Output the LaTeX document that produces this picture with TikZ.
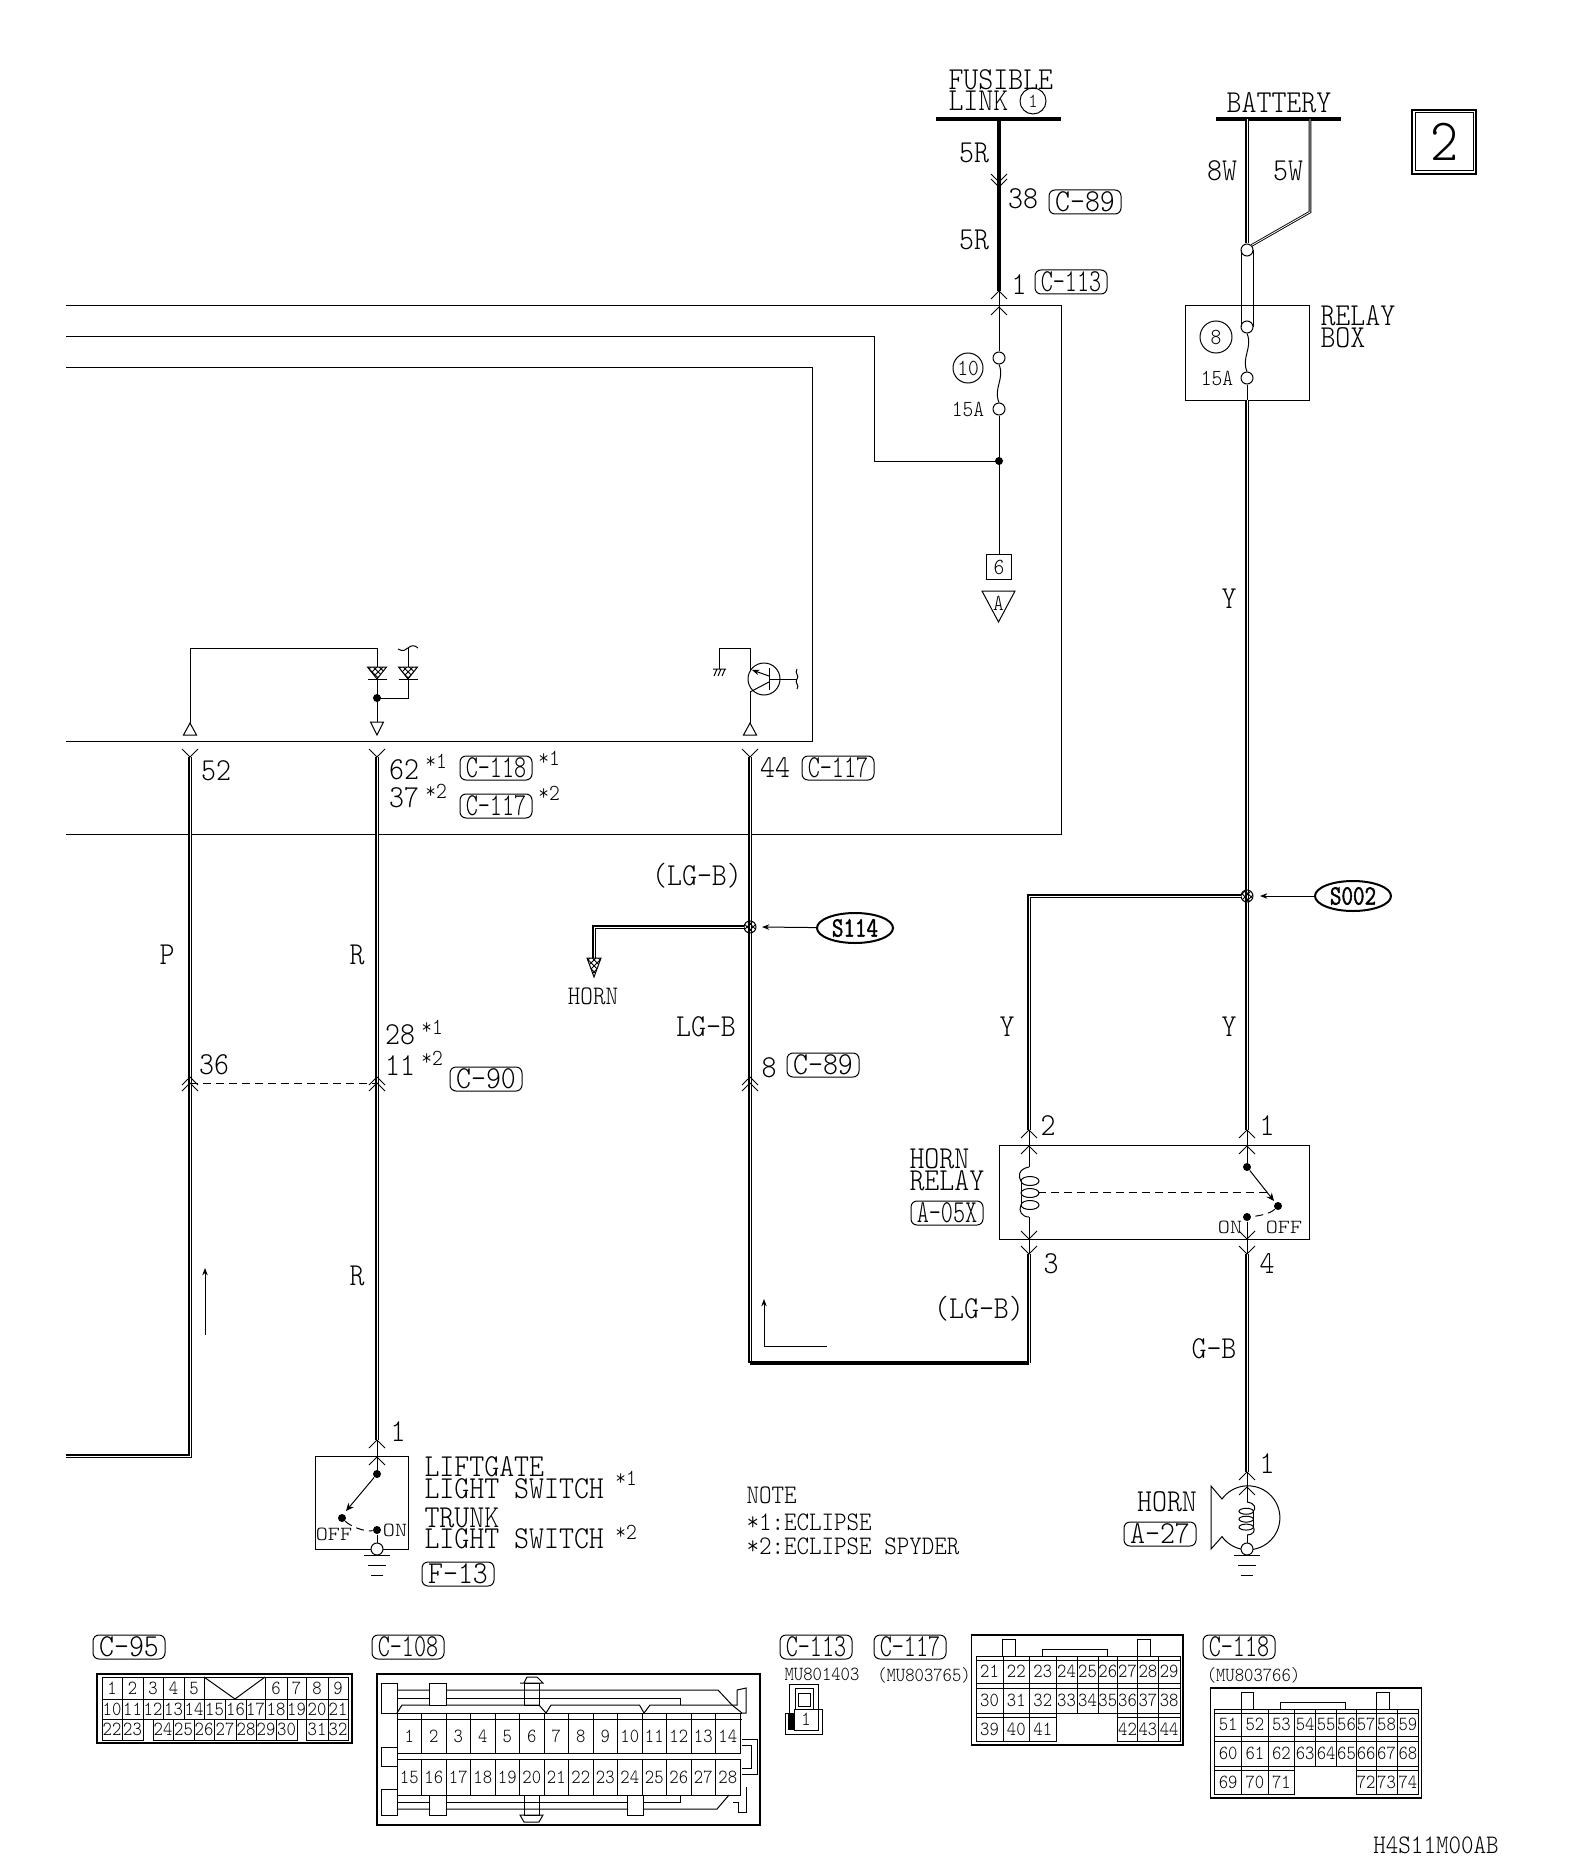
\documentclass[tikz,border=0pt]{standalone}
\usepackage{fontspec}
\setmonofont{Latin Modern Mono Light}[FakeStretch=.89]
\newfontfamily\tagfont{Latin Modern Mono Light}[FakeStretch=.72]
\newfontfamily\widefont{Latin Modern Mono Light}[FakeStretch=1.15]
\newfontfamily\splicefont{Latin Modern Mono}[FakeStretch=.8,FakeBold=1.5]
\usetikzlibrary{arrows.meta,patterns,shapes.geometric}
\tikzset{
  lab/.style={font=\ttfamily\fontsize{16}{16}\selectfont,inner sep=0pt},
  sml/.style={font=\ttfamily\fontsize{11.5}{11.5}\selectfont,inner sep=0pt},
  note/.style={font=\ttfamily\fontsize{13.4}{13.4}\selectfont,inner sep=0pt,anchor=west},
  pin/.style={font=\ttfamily\fontsize{10}{10}\selectfont,inner sep=0pt},
  pinw/.style={font=\widefont\fontsize{10}{10}\selectfont,inner sep=0pt},
  tag/.style={lab,draw,rounded corners=3pt,minimum width=36pt,minimum height=12pt},
  tagw/.style={tag,font=\tagfont\fontsize{16}{16}\selectfont},
  wire/.style={double=white,double distance=.5pt,line width=.75pt},
  wirelt/.style={double=white,double distance=.4pt,line width=.45pt},
  wirebold/.style={line width=2.4pt},
  term/.style={circle,draw,fill=white,minimum size=6pt,inner sep=0pt},
  dot/.style={circle,fill=black,minimum size=4pt,inner sep=0pt},
  sdot/.style={circle,draw,pattern=crosshatch,minimum size=6pt,inner sep=0pt},
  splice/.style={ellipse,draw,line width=1pt,inner sep=0pt,minimum width=38pt,minimum height=15pt,
    font=\splicefont\fontsize{14}{14}\selectfont},
  lead/.style={dash pattern=on 4pt off 2.5pt},
  tipup/.pic={\draw (-8,8)--(0,0)--(8,8);},
  tipdn/.pic={\draw (-8,-8)--(0,0)--(8,-8);},
  triup/.pic={\draw (0,0)--(-6.5,12)--(6.5,12)--cycle;},
  tridn/.pic={\draw (-6.5,0)--(6.5,0)--(0,13)--cycle;},
  gnd/.pic={\draw (-13,0)--(13,0) (-9,10)--(9,10) (-6,20)--(6,20);},
  coil/.pic={
    \draw (0,0) .. controls (-11,2) and (-11,10) .. (-8,14);
    \foreach \k in {0,1,2} \draw (1,14+12*\k) ellipse (9 and 4.5);
    \draw (-8,38) .. controls (-11,44) and (-7,50) .. (0,50);
    \draw (-8,14) -- (-8,38);},
  diode/.pic={
    \draw[pattern=crosshatch] (-9.5,0)--(9.5,0)--(0,12)--cycle;
    \draw (-9.5,12)--(9.5,12);}
}
\newcommand{\pinrow}[4]{%
  \foreach \n/\a/\b in {#4}
    \draw (\a,#2) rectangle (\b,#3) node[pin,midway] (#1-\n) {\n};}
\newcommand{\bigconn}[2]{%
  \draw[line width=.7pt] (971.5,1635) rectangle (1183,1745);
  \draw (1002.6,1656) -- (1002.6,1639) -- (1015,1639) -- (1015,1656);
  \draw (1137.4,1656) -- (1137.4,1639) -- (1150.7,1639) -- (1150.7,1656);
  \draw (1042,1656) -- (1042,1649) -- (1107,1649) -- (1107,1656);
  \foreach \i/\a/\b in {0/976/1003,1/1003/1029.5,2/1029.5/1056,3/1056/1077,4/1077/1098,5/1098/1117.6,6/1117.6/1137.4,7/1137.4/1158.3,8/1158.3/1180}{
    \pgfmathtruncatemacro\n{#2+\i}
    \draw (\a,1656) rectangle (\b,1683) node[pin,midway,yshift=-1pt] (#1-\n) {\n};
    \pgfmathtruncatemacro\n{#2+\i+9}
    \draw (\a,1683) rectangle (\b,1713) node[pin,midway,yshift=-1pt] (#1-\n) {\n};}
  \foreach \i/\a/\b in {18/976/1003,19/1003/1029.5,20/1029.5/1056,21/1117.6/1137.4,22/1137.4/1158.3,23/1158.3/1180}{
    \pgfmathtruncatemacro\n{#2+\i}
    \draw (\a,1713) rectangle (\b,1741) node[pin,midway,yshift=-1pt] (#1-\n) {\n};}
  \draw (976,1660) -- (1180,1660) (976,1688) -- (1180,1688) (976,1717) -- (1056,1717) (1117.6,1717) -- (1180,1717);}

\begin{document}
\begin{tikzpicture}[x=.5pt,y=-.5pt,line width=.5pt,>={Stealth[scale=.7]}]
  \useasboundingbox (0,0) rectangle (1568,1872);
  % power feeds
  \coordinate (fl) at (999,119);
  \coordinate (c38) at (999,187);
  \coordinate (c113a) at (999,291);
  \coordinate (c113b) at (999,307);
  \coordinate (flj) at (999,461);
  \coordinate (bw8) at (1247,119);
  \coordinate (bw5) at (1310,119);
  \coordinate (bw5k) at (1310,212);
  \coordinate (r1a) at (1247,1130);
  \coordinate (r1b) at (1247,1146);
  \coordinate (r2a) at (1029,1130);
  \coordinate (r2b) at (1029,1146);
  \coordinate (r3a) at (1029,1239);
  \coordinate (r3b) at (1029,1254);
  \coordinate (r4a) at (1247,1239);
  \coordinate (r4b) at (1247,1254);
  \coordinate (hn1a) at (1247,1472);
  \coordinate (hn1b) at (1247,1487);
  \coordinate (rbend) at (1029,1363);
  \coordinate (lgbend) at (750,1363);
  \coordinate (t52) at (190,757);
  \coordinate (t62) at (377,757);
  \coordinate (t44) at (750,757);
  \coordinate (c36) at (190,1083);
  \coordinate (c28) at (377,1083);
  \coordinate (pbend) at (190,1456);
  \coordinate (pend) at (66,1456);
  \coordinate (lsa) at (377,1440);
  \coordinate (lsb) at (377,1457);
  \coordinate (hornarr) at (594,958);

  \draw[line width=2.4pt] (936,119) -- (1061,119);
  \draw[line width=2.4pt] (1216,119) -- (1341,119);
  \node[lab,anchor=west] (fusible) at (948,80) {FUSIBLE};
  \node[lab,anchor=west] (link) at (948,101) {LINK};
  \node[draw,circle,minimum size=13pt,inner sep=0pt,pin] (fl1) at (1033,101) {1};
  \node[lab] (battery) at (1279,103) {BATTERY};
  \node[lab] (w5r1) at (974,153) {5R};
  \node[lab] (w5r2) at (974,240) {5R};
  \node[lab] (n38) at (1023,199) {38};
  \node[tag] (tc89a) at (1085,202) {C-89};
  \node[lab] (n1a) at (1019,285) {1};
  \node[tagw] (tc113) at (1071,282) {C-113};
  \node[lab] (w8w) at (1222,171) {8W};
  \node[lab] (w5w) at (1288,171) {5W};
  \draw[wirebold] (fl) -- (c113a);
  \path (c38) pic {tipdn} ++(0,-5) pic {tipdn};
  \path (c113a) pic {tipup} (c113b) pic {tipup};

  % number box
  \draw[line width=.8pt] (1412,110) rectangle (1476,174);
  \node[draw,minimum width=29pt,minimum height=29pt,font=\ttfamily\fontsize{30}{30}\selectfont,inner sep=0pt] (sheet) at (1444,142) {2};

  % control unit outline
  \draw (66,306) -- (1061,306) -- (1061,834) -- (66,834);
  \draw (66,337) -- (874,337) -- (874,461) -- (flj);
  \draw (66,368) -- (812,368) -- (812,741) -- (66,741);
  \node[term] (f10t) at (999,358) {};
  \node[term] (f10b) at (999,409) {};
  \draw (c113a) -- (f10t) (f10b) -- (flj);
  \draw (f10t.south) .. controls +(6,14) and +(-6,-14) .. (f10b.north);
  \node[draw,circle,minimum size=15pt,inner sep=0pt,sml] (f10) at (968,368) {10};
  \node[sml] (a15a) at (968,409) {15A};
  \node[dot] (fljd) at (flj) {};
  \node[draw,line width=.7pt,minimum size=12.5pt,inner sep=0pt,sml] (b6) at (999,567) {6};
  \draw (flj) -- (b6);
  \draw (982,591) -- (1015,591) -- (998.5,622) -- cycle;
  \node[sml] (la) at (998.5,603) {A};

  % relay box
  \draw (1185,306) rectangle (1309,400);
  \node[term] (rbt1) at (1247,250) {};
  \node[term] (rbt2) at (1247,327) {};
  \node[term] (rbt3) at (1247,378) {};
  \draw[wire] (bw8) -- (rbt1);
  \draw[wirelt] (bw5) -- (bw5k) -- (rbt1.north east);
  \draw (1241,250) -- (1241,327) (1253,250) -- (1253,327);
  \draw (rbt2.south) .. controls +(6,14) and +(-6,-14) .. (rbt3.north);
  \draw (rbt3) -- (1247,400);
  \node[draw,circle,minimum size=16pt,inner sep=0pt,sml] (f8) at (1216,337) {8};
  \node[sml] (a15b) at (1217,378) {15A};
  \node[lab,anchor=west] (relay) at (1320,316) {RELAY};
  \node[lab,anchor=west] (box) at (1320,338) {BOX};
  \node[lab] (wy1) at (1229,599) {Y};

  % inner circuit
  \draw (190,723) -- (190,648) -- (377,648) -- (377,667);
  \draw (377,679) -- (377,722);
  \path (377,667) pic {diode} (408,667) pic {diode};
  \draw (408,648) -- (408,667) (408,679) -- (408,698) -- (377,698);
  \draw (398,649) .. controls (403,652) and (406,650) .. (408,648) .. controls (411,645) and (415,645) .. (418,648);
  \node[dot] (d698) at (377,698) {};
  \path (190,723) pic {triup} (377,722) pic {tridn} (750,723) pic {triup};
  \draw (750,723) -- (750,692) (750,670) -- (750,648) -- (719,648) -- (719,669);
  \draw (713,669) -- (726,669) (717,669) -- (714,676) (721,669) -- (718,676) (725,669) -- (722,676);
  \draw (764,679) circle[radius=16];
  \draw (769,668) -- (769,690) (769,679) -- (797,679);
  \draw[->] (769,676) -- (752,670);
  \draw (769,682) -- (750,692);
  \draw (797,669) .. controls (794,673) and (800,676) .. (797,679) .. controls (794,682) and (800,686) .. (797,689);

  % harness wires
  \draw[wire] (t52) -- (pbend) -- (pend);
  \draw[wire] (t62) -- (lsa);
  \draw[wire] (t44) -- (lgbend);
  \draw[wire] (r3b) -- (rbend);
  \draw[wirebold] (lgbend) -- (rbend);
  \draw[wire] (1247,400) -- (r1a);
  \draw[wire] (r4b) -- (hn1a);
  \foreach \t in {t52,t62,t44} \path (\t) pic {tipdn};
  \foreach \t in {c36,c28} \path (\t) pic {tipup} ++(0,-6) pic {tipup};
  \path (750,1083) pic {tipup} ++(0,-6) pic {tipup};
  \draw[lead] (c36) -- (c28);

  \node[lab] (n52) at (216,771) {52};
  \node[lab] (n62) at (404,770) {62};
  \node[sml] (sa1) at (436,761) {*1};
  \node[tagw] (tc118) at (496,768) {C-118};
  \node[sml] (sa2) at (549,758) {*1};
  \node[lab] (n37) at (404,798) {37};
  \node[sml] (sa3) at (436,791) {*2};
  \node[tagw] (tc117a) at (496,806) {C-117};
  \node[sml] (sa4) at (549,793) {*2};
  \node[lab] (n44) at (775,768) {44};
  \node[tagw] (tc117b) at (838,768) {C-117};
  \node[lab] (lgb1) at (697,876) {(LG-B)};
  \node[lab] (lgb2) at (706,1027) {LG-B};
  \node[lab] (n8) at (769,1068) {8};
  \node[tag] (tc89b) at (823,1065) {C-89};
  \node[lab] (wp) at (167,955) {P};
  \node[lab] (wr1) at (357,955) {R};
  \node[lab] (wr2) at (357,1276) {R};
  \node[lab] (n36) at (214,1065) {36};
  \node[lab] (n28) at (400,1035) {28};
  \node[sml] (sa5) at (432,1027) {*1};
  \node[lab] (n11) at (400,1066) {11};
  \node[sml] (sa6) at (432,1058) {*2};
  \node[tag] (tc90) at (486,1079) {C-90};

  % splices
  \node[sdot] (s114j) at (750,927) {};
  \node[sdot] (s002j) at (1247,896) {};
  \node[splice] (s114) at (855,928) {S114};
  \node[splice] (s002) at (1353,896) {S002};
  \coordinate (s114p) at (762,927);
  \coordinate (s002p) at (1260,896);
  \draw[->] (s114) -- (s114p);
  \draw[->] (s002) -- (s002p);
  \draw[wire] (s114j) -| (hornarr);
  \draw[pattern=crosshatch] (587,958) -- (601,958) -- (594,977) -- cycle;
  \node[lab,font=\ttfamily\fontsize{13.4}{13.4}\selectfont] (hornto) at (593,996) {HORN};
  \draw[wire] (s002j) -| (r2a);
  \node[lab] (wy2) at (1007,1027) {Y};
  \node[lab] (wy3) at (1229,1027) {Y};

  % direction arrows
  \draw[->] (205,1335) -- (205,1268);
  \draw[->] (827,1346) -- (764,1346) -- (764,1299);

  % horn relay
  \draw (999,1145) rectangle (1309,1239);
  \path (r2a) pic {tipup} (r2b) pic {tipup} (r1a) pic {tipup} (r1b) pic {tipup};
  \path (r3a) pic {tipdn} (r3b) pic {tipdn} (r4a) pic {tipdn} (r4b) pic {tipdn};
  \draw (r2a) -- (1029,1167) (1029,1217) -- (r3b);
  \path (1029,1167) pic {coil};
  \node[dot] (rc1) at (1247,1167) {};
  \node[dot] (rc2) at (1278,1206) {};
  \node[dot] (rc3) at (1247,1217) {};
  \draw (r1a) -- (rc1) (rc3) -- (r4b);
  \draw[-{Stealth[length=4pt,width=3.5pt]}] (rc1) -- (1274,1201);
  \draw[lead] (1038,1192) -- (1270,1192);
  \draw[lead] (rc2) .. controls (1270,1214) and (1258,1216) .. (rc3);
  \node[pinw] (ron) at (1230,1227) {ON};
  \node[pinw] (roff) at (1284,1227) {OFF};
  \node[lab] (n2) at (1048,1126) {2};
  \node[lab] (n1b) at (1267,1126) {1};
  \node[lab] (n3) at (1051,1264) {3};
  \node[lab] (n4) at (1267,1264) {4};
  \node[lab,anchor=west] (hr1) at (909,1159) {HORN};
  \node[lab,anchor=west] (hr2) at (909,1181) {RELAY};
  \node[tagw] (ta05) at (947,1213) {A-05X};
  \node[lab] (lgb3) at (979,1309) {(LG-B)};
  \node[lab] (gb) at (1214,1349) {G-B};

  % liftgate switch
  \draw (315,1456) rectangle (408,1549);
  \path (lsa) pic {tipup} (lsb) pic {tipup};
  \node[dot] (sw1) at (377,1474) {};
  \node[dot] (sw2) at (342,1518) {};
  \node[dot] (sw3) at (377,1530) {};
  \node[term] (sw4) at (377,1549) {};
  \draw (lsa) -- (sw1) (sw3) -- (sw4);
  \draw[-{Stealth[length=4pt,width=3.5pt]}] (sw1) -- (346,1511);
  \draw[lead] (sw2) .. controls (350,1526) and (364,1532) .. (sw3);
  \path (377,1555) pic {gnd};
  \node[pinw] (soff) at (334,1534) {OFF};
  \node[pinw] (son) at (395,1530) {ON};
  \node[lab,anchor=west] (lift) at (424,1467) {LIFTGATE};
  \node[lab,anchor=west] (light1) at (424,1489) {LIGHT SWITCH};
  \node[sml] (sb1) at (626,1478) {*1};
  \node[lab,anchor=west] (trunk) at (424,1518) {TRUNK};
  \node[lab,anchor=west] (light2) at (424,1539) {LIGHT SWITCH};
  \node[sml] (sb2) at (626,1532) {*2};
  \node[tag] (tf13) at (458,1574) {F-13};

  % horn
  \draw (1211,1486) -- (1222,1499) arc[start angle=-144,end angle=144,radius=32] -- (1211,1549) -- cycle;
  \path (hn1a) pic {tipup} (hn1b) pic {tipup};
  \node[term] (hn2) at (1247,1549) {};
  \draw (hn1a) -- (1247,1502) (1247,1535) -- (hn2);
  \path (1247,1502) pic[xscale=-.8,yscale=.66] {coil};
  \path (1247,1555) pic {gnd};
  \node[lab] (hn) at (1167,1502) {HORN};
  \node[tag] (ta27) at (1160,1534) {A-27};
  \node[lab] (n1c) at (1267,1464) {1};
  \node[lab] (n1d) at (398,1432) {1};

  % note
  \node[note] (nt0) at (746,1495) {NOTE};
  \node[note] (nt1) at (746,1522) {*1:ECLIPSE};
  \node[note] (nt2) at (746,1546) {*2:ECLIPSE SPYDER};
  \node[note,anchor=center] (code) at (1436,1845) {H4S11M00AB};

  % C-95
  \node[tag] (tc95) at (129,1647) {C-95};
  \draw[line width=.7pt] (97,1674) rectangle (352,1743);
  \pinrow{c95}{1677}{1699}{1/102/122,2/122/143,3/143/163,4/163/184,5/184/204,6/265/287,7/287/306,8/306/328,9/328/348}
  \pinrow{c95}{1699}{1719}{10/102/122,11/122/143,12/143/163,13/163/184,14/184/204,15/204/225,16/225/246,17/246/265,18/265/287,19/287/306,20/306/328,21/328/348}
  \pinrow{c95}{1719}{1740}{22/102/122,23/122/143,24/153/173,25/173/194,26/194/214,27/214/236,28/236/256,29/256/276,30/276/297,31/306/328,32/328/348}
  \draw (204,1677) -- (235,1699) -- (265,1677);
  \draw (204,1677) -- (265,1677);

  % C-108
  \node[tagw] (tc108) at (408,1647) {C-108};
  \draw[line width=.7pt] (377,1674) rectangle (760,1825);
  \draw (397,1690) -- (718,1690) -- (732,1705);
  \draw (397,1698) -- (680.6,1698) -- (680.6,1705);
  \draw (397,1713) -- (402,1705) -- (539,1705) -- (546,1713) -- (551,1705) -- (639.5,1705) -- (644,1713) -- (650,1705) -- (732,1705) -- (742,1713);
  \draw (381,1713) -- (742,1713) (397,1719) -- (742,1719);
  \draw (397,1802) -- (680.6,1802) -- (680.6,1795);
  \draw (397,1809) -- (717,1809) -- (729,1795);
  \foreach \n in {1,...,14}{
    \draw ({397+24.5*(\n-1)},1713) rectangle ({397+24.5*\n},1753) node[pin,midway,yshift=-1.5pt] (c108-\n) {\n};}
  \foreach \n in {15,...,28}{
    \draw ({397+24.5*(\n-15)},1759) rectangle ({397+24.5*(\n-14)},1795) node[pin,midway] (c108-\n) {\n};}
  \draw (381,1683) rectangle (397,1713) (381,1747) rectangle (397,1766) (381,1789) rectangle (397,1815);
  \draw[fill=white] (429.5,1683) rectangle (446,1705) (429.5,1795) rectangle (446,1815) (627.7,1795) rectangle (643,1815);
  \draw (524,1683) rectangle (539.5,1705) (524,1795) rectangle (539.5,1815);
  \draw (524,1683) -- (527,1677) -- (537,1677) -- (543,1683) -- (520,1683) -- cycle;
  \draw (520,1815) -- (543,1815) -- (539,1822) -- (524,1822) -- cycle;
  \draw (732,1705) -- (737,1705) -- (737,1690) -- (746,1688) -- (746,1713) -- (742,1713);
  \draw (742,1739) -- (757,1739) -- (757,1774) -- (742,1774);
  \draw (742,1745) -- (751,1745) -- (751,1768) -- (742,1768);
  \draw (746,1787) -- (746,1812) -- (738,1812) -- (738,1802) -- (733,1802);

  % C-113
  \node[tagw] (tc113b) at (816,1647) {C-113};
  \node[pin] (mu1) at (822,1674) {MU801403};
  \draw (789,1684) -- (818,1684) -- (818,1709) -- (822,1709) -- (822,1734) -- (785,1734) -- (785,1713) -- (789,1713) -- cycle;
  \draw (795,1688) rectangle (813,1709) (798,1693) rectangle (810,1706);
  \draw (794,1709) rectangle (818,1730) node[pin,midway] (c113-1) {1};
  \fill (788,1713) rectangle (794,1730);

  % C-117 / C-118
  \node[tagw] (tc117c) at (910,1647) {C-117};
  \node[pin] (mu2) at (924,1675) {(MU803765)};
  \bigconn{c117}{21}
  \node[tagw] (tc118b) at (1239,1647) {C-118};
  \node[pin] (mu3) at (1253.5,1675) {(MU803766)};
  \begin{scope}[shift={(238.7,53)}]
    \bigconn{c118}{51}
  \end{scope}
\end{tikzpicture}
\end{document}
